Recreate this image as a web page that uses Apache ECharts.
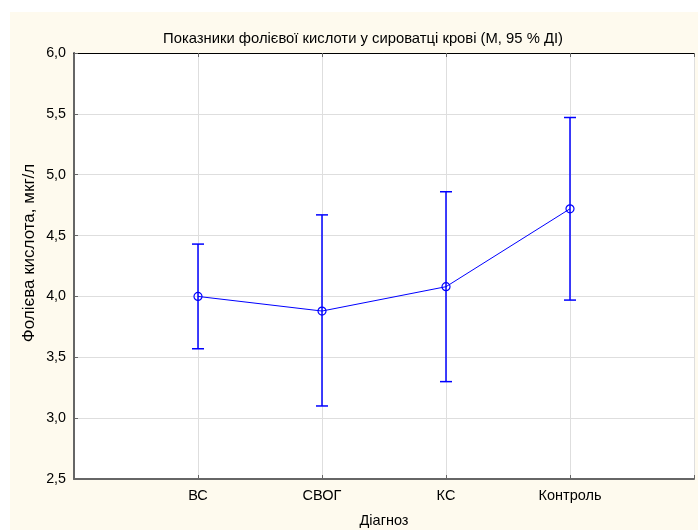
<!DOCTYPE html>
<html>
<head>
<meta charset="utf-8">
<script src="https://cdn.jsdelivr.net/npm/echarts@6/dist/echarts.min.js"></script>
<style>
  html, body { margin: 0; padding: 0; background: #ffffff; }
  #chart { width: 698px; height: 530px; }
</style>
</head>
<body>
<div id="chart"></div>
<script>
// Folic acid in blood serum: mean with 95% confidence interval per diagnosis group
const categories = ['ВС', 'СВОГ', 'КС', 'Контроль'];
const means = [4.00, 3.88, 4.08, 4.72];
const ciLow = [3.57, 3.10, 3.30, 3.97];
const ciHigh = [4.43, 4.67, 4.86, 5.47];
const yTicks = [2.5, 3.0, 3.5, 4.0, 4.5, 5.0, 5.5, 6.0];

const titleText = 'Показники фолієвої кислоти у сироватці крові (М, 95 % ДІ)';
const yName = 'Фолієва кислота, мкг/л';
const xName = 'Діагноз';

const FONT = '"Liberation Sans", Arial, sans-serif';
const BLUE = '#0000ff';

const meanData = means.map((m, i) => [i + 1, m]);
const barData = means.map((m, i) => [i + 1, ciLow[i], ciHigh[i]]);

const chart = echarts.init(document.getElementById('chart'), null, { renderer: 'canvas' });

chart.setOption({
  backgroundColor: '#ffffff',
  animation: false,
  graphic: [{
    type: 'rect',
    z: -10,
    shape: { x: 10, y: 12, width: 688, height: 518 },
    style: { fill: '#fefaee' }
  }, {
    // vertical axis title, rotated
    type: 'text',
    x: 29,
    y: 253,
    rotation: Math.PI / 2,
    style: {
      text: yName,
      fontFamily: FONT,
      fontSize: 17,
      fill: '#000',
      align: 'center',
      verticalAlign: 'middle'
    }
  }],
  title: {
    text: titleText,
    left: 358,
    top: 26,
    textAlign: 'center',
    textStyle: { fontFamily: FONT, fontSize: 14.8, fontWeight: 'normal', color: '#000' }
  },
  grid: {
    left: 74, top: 53, right: 4, bottom: 51,
    outerBoundsMode: 'none',
    containLabel: false,
    show: true, backgroundColor: '#ffffff', borderWidth: 0
  },
  xAxis: [{
    type: 'value',
    min: 0, max: categories.length + 1, interval: 1,
    position: 'bottom',
    name: xName,
    nameLocation: 'middle',
    nameGap: 34,
    nameTextStyle: { fontFamily: FONT, fontSize: 14.5, color: '#000' },
    axisLine: { show: true, lineStyle: { color: '#666', width: 2 } },
    axisTick: { show: true, inside: true, length: 4, lineStyle: { color: '#666' } },
    axisLabel: {
      fontFamily: FONT, fontSize: 14.5, color: '#000', margin: 9,
      formatter: v => categories[v - 1] || ''
    },
    splitLine: { show: true, lineStyle: { color: '#dedede', width: 1 } }
  }, {
    type: 'value',
    min: 0, max: categories.length + 1, interval: 1,
    position: 'top',
    axisLine: { show: true, lineStyle: { color: '#000', width: 1 } },
    axisTick: { show: true, inside: true, length: 4, lineStyle: { color: '#666' } },
    axisLabel: { show: false },
    splitLine: { show: false }
  }],
  yAxis: [{
    type: 'value',
    min: yTicks[0], max: yTicks[yTicks.length - 1], interval: 0.5,
    position: 'left',
    axisLine: { show: true, lineStyle: { color: '#000', width: 1 } },
    axisTick: { show: true, inside: true, length: 4, lineStyle: { color: '#666' } },
    axisLabel: {
      fontFamily: FONT, fontSize: 14.3, color: '#000', margin: 8,
      formatter: v => v.toFixed(1).replace('.', ',')
    },
    splitLine: { show: true, lineStyle: { color: '#dedede', width: 1 } }
  }, {
    type: 'value',
    min: yTicks[0], max: yTicks[yTicks.length - 1], interval: 0.5,
    position: 'right',
    axisLine: { show: true, lineStyle: { color: '#666', width: 2 } },
    axisTick: { show: false },
    axisLabel: { show: false },
    splitLine: { show: false }
  }],
  series: [{
    type: 'custom',
    name: 'CI',
    xAxisIndex: 0,
    yAxisIndex: 0,
    data: barData,
    z: 3,
    renderItem: function (params, api) {
      const x = api.value(0);
      const lo = api.coord([x, api.value(1)]);
      const hi = api.coord([x, api.value(2)]);
      const half = 6;
      const style = { stroke: BLUE, lineWidth: 1.5, fill: null };
      return {
        type: 'group',
        children: [
          { type: 'line', shape: { x1: hi[0], y1: hi[1], x2: lo[0], y2: lo[1] }, style: style },
          { type: 'line', shape: { x1: hi[0] - half, y1: hi[1], x2: hi[0] + half, y2: hi[1] }, style: style },
          { type: 'line', shape: { x1: lo[0] - half, y1: lo[1], x2: lo[0] + half, y2: lo[1] }, style: style }
        ]
      };
    }
  }, {
    type: 'line',
    name: 'M',
    xAxisIndex: 0,
    yAxisIndex: 0,
    data: meanData,
    z: 4,
    symbol: 'circle',
    symbolSize: 8,
    showAllSymbol: true,
    lineStyle: { color: BLUE, width: 1 },
    itemStyle: { color: 'rgba(0,0,0,0)', borderColor: BLUE, borderWidth: 1.2 }
  }]
});
</script>
</body>
</html>
